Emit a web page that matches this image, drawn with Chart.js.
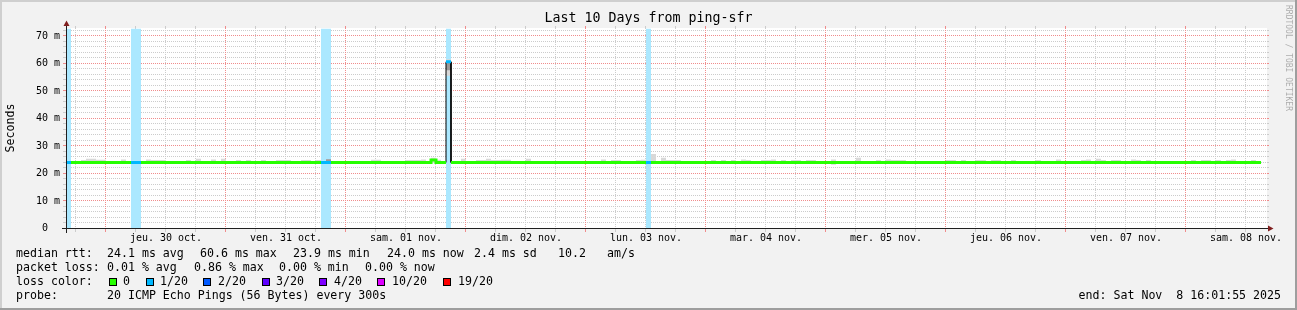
<!DOCTYPE html>
<html>
<head>
<meta charset="utf-8">
<script src="https://cdn.jsdelivr.net/npm/chart.js@4/dist/chart.umd.min.js"></script>
<style>
html,body{margin:0;padding:0;background:#f2f2f2;}
canvas{display:block;}
</style>
</head>
<body>
<canvas id="c" width="1297" height="310"></canvas>
<script>
// ---------------- data ----------------
const chartTitle = 'Last 10 Days from ping-sfr';
const yAxisTitle = 'Seconds';
const watermark = 'RRDTOOL / TOBI OETIKER';
// time axis in hours counted from Wed 29 Oct 2025 00:00
const xMinHour = 16;
const xMaxHour = 256;
const firstBinHour = 16;        // hourly bins, first one starts 29 Oct 16:00
const yMaxMs = 72.7;

const dayLabels = ['jeu. 30 oct.', 'ven. 31 oct.', 'sam. 01 nov.', 'dim. 02 nov.', 'lun. 03 nov.',
                   'mar. 04 nov.', 'mer. 05 nov.', 'jeu. 06 nov.', 'ven. 07 nov.', 'sam. 08 nov.'];
const dayLabelHours = [36, 60, 84, 108, 132, 156, 180, 204, 228, 252];
const xGridHours = [18,24,30,36,42,48,54,60,66,72,78,84,90,96,102,108,114,120,126,132,138,144,150,156,
                    162,168,174,180,186,192,198,204,210,216,222,228,234,240,246,252];
const xMajorHours = [24,48,72,96,120,144,168,192,216,240];
const yGridMs = [2,4,6,8,10,12,14,16,18,20,22,24,26,28,30,32,34,36,38,40,42,44,46,48,50,52,54,56,58,60,62,64,66,68,70,72];
const yLabelMs = [0,10,20,30,40,50,60,70];

// median RTT per hourly bin (ms)
const medianMs = [
 24.0,24.0,24.0,24.0,24.0,24.0,24.0,24.0,24.0,24.0,
 24.0,24.0,24.0,24.0,24.0,24.0,24.0,24.0,24.0,24.0,
 24.0,24.0,24.0,24.0,24.0,24.0,24.0,24.0,24.0,24.0,
 24.0,24.0,24.0,24.0,24.0,24.0,24.0,24.0,24.0,24.0,
 24.0,24.0,24.0,24.0,24.0,24.0,24.0,24.0,24.0,24.0,
 24.0,24.0,24.0,24.0,24.0,24.0,24.0,24.0,24.0,24.0,
 24.0,24.0,24.0,24.0,24.0,24.0,24.0,24.0,24.0,24.0,
 24.0,24.0,24.0,24.9,24.0,24.0,60.6,24.0,24.0,24.0,
 24.0,24.0,24.0,24.0,24.0,24.0,24.0,24.0,24.0,24.0,
 24.0,24.0,24.0,24.0,24.0,24.0,24.0,24.0,24.0,24.0,
 24.0,24.0,24.0,24.0,24.0,24.0,24.0,24.0,24.0,24.0,
 24.0,24.0,24.0,24.0,24.0,24.0,24.0,24.0,24.0,24.0,
 24.0,24.0,24.0,24.0,24.0,24.0,24.0,24.0,24.0,24.0,
 24.0,24.0,24.0,24.0,24.0,24.0,24.0,24.0,24.0,24.0,
 24.0,24.0,24.0,24.0,24.0,24.0,24.0,24.0,24.0,24.0,
 24.0,24.0,24.0,24.0,24.0,24.0,24.0,24.0,24.0,24.0,
 24.0,24.0,24.0,24.0,24.0,24.0,24.0,24.0,24.0,24.0,
 24.0,24.0,24.0,24.0,24.0,24.0,24.0,24.0,24.0,24.0,
 24.0,24.0,24.0,24.0,24.0,24.0,24.0,24.0,24.0,24.0,
 24.0,24.0,24.0,24.0,24.0,24.0,24.0,24.0,24.0,24.0,
 24.0,24.0,24.0,24.0,24.0,24.0,24.0,24.0,24.0,24.0,
 24.0,24.0,24.0,24.0,24.0,24.0,24.0,24.0,24.0,24.0,
 24.0,24.0,24.0,24.0,24.0,24.0,24.0,24.0,24.0,24.0,
 24.0,24.0,24.0,24.0,24.0,24.0,24.0,24.0,24.0
];
// smoke (ping spread) per bin: lowest and highest ping (ms)
const smokeLowMs = [
 23.7,23.7,23.7,23.7,23.7,23.7,23.7,23.7,23.7,23.7,
 23.7,23.7,23.7,23.7,23.7,23.7,23.7,23.7,23.7,23.7,
 23.7,23.7,23.7,23.7,23.7,23.7,23.7,23.7,23.7,23.7,
 23.7,23.7,23.7,23.7,23.7,23.7,23.7,23.7,23.7,23.7,
 23.7,23.7,23.7,23.7,23.7,23.7,23.7,23.7,23.7,23.7,
 23.7,23.7,23.7,23.7,23.7,23.7,23.7,23.7,23.7,23.7,
 23.7,23.7,23.7,23.7,23.7,23.7,23.7,23.7,23.7,23.7,
 23.7,23.7,23.7,23.7,23.7,23.7,55.5,23.7,23.7,23.7,
 23.7,23.7,23.7,23.7,23.7,23.7,23.7,23.7,23.7,23.7,
 23.7,23.7,23.7,23.7,23.7,23.7,23.7,23.7,23.7,23.7,
 23.7,23.7,23.7,23.7,23.7,23.7,23.7,23.7,23.7,23.7,
 23.7,23.7,23.7,23.7,23.7,23.7,23.7,23.7,23.7,23.7,
 23.7,23.7,23.7,23.7,23.7,23.7,23.7,23.7,23.7,23.7,
 23.7,23.7,23.7,23.7,23.7,23.7,23.7,23.7,23.7,23.7,
 23.7,23.7,23.7,23.7,23.7,23.7,23.7,23.7,23.7,23.7,
 23.7,23.7,23.7,23.2,23.7,23.7,23.7,23.7,23.7,23.7,
 23.7,23.7,23.7,23.7,23.7,23.7,23.7,23.7,23.7,23.7,
 23.7,23.7,23.7,23.7,23.7,23.7,23.7,23.7,23.7,23.7,
 23.7,23.7,23.7,23.7,23.7,23.7,23.7,23.7,23.7,23.7,
 23.7,23.7,23.7,23.7,23.7,23.7,23.7,23.7,23.7,23.7,
 23.7,23.7,23.7,23.7,23.7,23.7,23.7,23.7,23.7,23.7,
 23.7,23.7,23.7,23.7,23.7,23.7,23.7,23.7,23.7,23.7,
 23.7,23.7,23.7,23.7,23.7,23.7,23.7,23.7,23.7,23.7,
 23.7,23.7,23.7,23.7,23.7,23.7,23.7,23.7,23.7
];
const smokeHighMs = [
 24.5,24.5,24.5,24.9,25.35,25.35,25.0,25.0,24.5,24.5,
 24.5,25.1,24.5,24.5,24.5,24.5,25.1,24.9,24.9,24.9,
 24.5,24.5,24.5,24.5,24.9,24.5,25.35,24.5,24.5,25.1,
 24.5,25.35,24.5,24.5,24.9,24.5,24.9,24.5,24.5,24.9,
 24.5,24.5,24.9,24.9,24.9,24.5,24.5,24.9,24.9,24.5,
 24.9,24.5,25.2,24.5,24.5,24.5,24.5,24.5,24.5,24.5,
 24.5,25.0,25.0,24.5,24.5,24.5,24.5,24.5,24.9,24.9,
 24.9,25.1,24.5,25.7,25.0,24.5,61.5,24.5,24.5,25.35,
 24.5,24.5,24.9,24.9,25.35,24.9,24.9,25.0,25.0,24.5,
 24.5,24.5,25.35,24.5,24.5,24.5,24.5,24.5,24.5,24.5,
 24.5,24.5,24.5,24.5,24.5,24.5,24.5,25.1,24.5,24.9,
 24.9,24.5,24.5,24.5,24.9,25.0,24.5,27.1,24.5,25.7,
 24.9,24.9,24.9,24.5,24.5,24.5,24.5,24.5,24.5,24.9,
 24.5,24.9,24.5,24.9,24.5,25.1,24.9,24.5,24.5,24.9,
 24.9,25.1,24.5,24.9,24.5,24.9,24.9,24.5,24.9,24.9,
 24.5,24.5,24.5,25.1,24.5,24.5,24.5,24.5,25.7,24.5,
 24.5,24.5,24.9,24.5,25.1,24.9,24.9,24.9,24.5,24.5,
 24.5,24.5,24.5,24.5,24.5,24.5,24.9,24.9,24.5,24.9,
 24.5,24.5,24.9,24.9,24.5,24.9,24.9,24.5,24.5,24.9,
 24.5,24.5,24.5,24.5,24.9,24.5,24.5,24.5,25.1,24.5,
 24.5,24.5,24.5,24.9,25.1,24.5,25.35,24.9,24.5,24.9,
 24.9,24.5,24.5,25.1,24.9,24.5,24.9,24.5,24.5,24.5,
 24.5,24.5,24.5,24.5,24.5,24.9,24.5,24.9,24.9,24.5,
 24.9,24.5,24.9,25.1,24.5,24.5,24.5,24.9,24.5
];
// denser core of the smoke (only bins where it shows)
const smokeCoreBins = [52, 76];
const smokeCoreLowMs = [23.9, 57.5];
const smokeCoreHighMs = [25.15, 60.9];
// bins with packet loss (lost pings out of 20)
const lossBins = [0, 13, 14, 51, 52, 76, 116];
const lossBinOf20 = [1, 1, 1, 1, 1, 1, 1];

const lossThresholds = [0, 1, 2, 3, 4, 10, 19];
const lossLegendLabels = ['0', '1/20', '2/20', '3/20', '4/20', '10/20', '19/20'];
const lossColors = ['#26ff00', '#00b8ff', '#0059ff', '#5e00ff', '#7e00ff', '#dd00ff', '#ff0000'];

const medianStats = ['24.1 ms avg', '60.6 ms max', '23.9 ms min', '24.0 ms now', '2.4 ms sd', '10.2', 'am/s'];
const lossStats = ['0.01 % avg', '0.86 % max', '0.00 % min', '0.00 % now'];
const probeText = '20 ICMP Echo Pings (56 Bytes) every 300s';
const endText = 'end: Sat Nov  8 16:01:55 2025';

// ---------------- helpers ----------------
const MONO = '"DejaVu Sans Mono", "Liberation Mono", monospace';
const GRID = '#cccccc';
const MGRID = '#f08c8c';
const AXIS = '#1f1f1f';
const ARROW = '#801f1f';

function lossOfBin(i) { const k = lossBins.indexOf(i); return k < 0 ? 0 : lossBinOf20[k]; }
function lossClass(i) { const l = lossOfBin(i); let c = 0; lossThresholds.forEach((t, j) => { if (l >= t) c = j; }); return c; }
function lighten(hex, f) {
  const n = parseInt(hex.slice(1), 16);
  const r = (n >> 16) & 255, g = (n >> 8) & 255, b = n & 255;
  const m = v => Math.round(v * f + 255 * (1 - f));
  return 'rgb(' + m(r) + ',' + m(g) + ',' + m(b) + ')';
}

const medianPoints = [];
medianMs.forEach((m, i) => {
  medianPoints.push({ x: firstBinHour + i, y: m }, { x: firstBinHour + i + 1, y: m });
});
const smokePoints = medianMs.map((_, i) => ({ x: firstBinHour + i + 0.5, y: [smokeLowMs[i], smokeHighMs[i]] }));
const smokeCorePoints = smokeCoreBins.map((b, k) => ({ x: firstBinHour + b + 0.5, y: [smokeCoreLowMs[k], smokeCoreHighMs[k]] }));
const lossBandPoints = lossBins.map(b => ({ x: firstBinHour + b + 0.5, y: [0, yMaxMs] }));

// ---------------- drawing plugin ----------------
const rrdPlugin = {
  id: 'rrd',
  beforeDraw(chart) {
    const c = chart.ctx, W = chart.width, H = chart.height, a = chart.chartArea;
    c.save();
    c.fillStyle = '#f2f2f2'; c.fillRect(0, 0, W, H);
    c.fillStyle = '#cfcfcf'; c.fillRect(0, 0, W, 2); c.fillRect(0, 0, 2, H);
    c.fillStyle = '#9e9e9e'; c.fillRect(0, H - 2, W, 2); c.fillRect(W - 2, 0, 2, H);
    c.fillStyle = '#ffffff';
    c.fillRect(Math.floor(a.left), Math.floor(a.top), Math.floor(a.right) - Math.floor(a.left) + 1, Math.floor(a.bottom) - Math.floor(a.top));
    c.restore();
  },
  beforeDatasetsDraw(chart) {
    const c = chart.ctx, xs = chart.scales.x, ys = chart.scales.y, a = chart.chartArea;
    const Li = Math.floor(a.left), Ri = Math.floor(a.right);
    const T = Math.floor(a.top), B = Math.floor(a.bottom);
    c.save();
    // minor grid first, major grid on top of it
    const drawH = (major) => yGridMs.forEach(v => {
      if (yLabelMs.includes(v) !== major) return;
      const y = Math.floor(ys.getPixelForValue(v));
      c.fillStyle = major ? MGRID : GRID;
      for (let x = Li + 1; x <= Ri; x += 2) c.fillRect(x, y, 1, 1);
      c.fillRect(Li - 3, y, 3, 1); c.fillRect(Ri + 1, y, 2, 1);
    });
    const drawV = (major) => xGridHours.forEach(h => {
      if (xMajorHours.includes(h) !== major) return;
      const x = Math.round(xs.getPixelForValue(h)) - 1;
      c.fillStyle = major ? MGRID : GRID;
      for (let y = T; y < B; y += 2) c.fillRect(x, y, 1, 1);
      c.fillRect(x, T - 2, 1, 2); c.fillRect(x, B + 1, 1, 3);
    });
    drawH(false); drawV(false); drawH(true); drawV(true);
    c.restore();
  },
  afterDatasetsDraw(chart) {
    const c = chart.ctx, a = chart.chartArea;
    const X0 = Math.floor(a.left), X1 = Math.floor(a.right), Y0 = Math.floor(a.bottom), Y1 = Math.floor(a.top);
    c.save();
    c.fillStyle = AXIS;
    c.fillRect(X0 - 4, Y0, X1 - X0 + 9, 1);
    c.fillRect(X0, Y1 - 4, 1, Y0 - Y1 + 9);
    c.fillStyle = ARROW;
    c.beginPath(); c.moveTo(X1 + 2, Y0 - 2.5); c.lineTo(X1 + 2, Y0 + 3.5); c.lineTo(X1 + 7.5, Y0 + 0.5); c.closePath(); c.fill();
    c.beginPath(); c.moveTo(X0 - 2.5, Y1 - 2); c.lineTo(X0 + 3.5, Y1 - 2); c.lineTo(X0 + 0.5, Y1 - 7.5); c.closePath(); c.fill();
    c.restore();
  },
  afterDraw(chart) {
    const c = chart.ctx;
    c.save();
    c.fillStyle = '#000';
    c.textBaseline = 'middle';
    // title
    c.font = '13.3px ' + MONO; c.textAlign = 'center';
    c.fillText(chartTitle, 648.5, 19);
    // y axis title
    c.font = '11.6px ' + MONO;
    c.save(); c.translate(11, 128); c.rotate(-Math.PI / 2); c.fillText(yAxisTitle, 0, 0); c.restore();
    // watermark
    c.save(); c.font = '8px ' + MONO; c.fillStyle = 'rgba(0,0,0,0.3)'; c.textAlign = 'left';
    c.translate(1288, 5); c.rotate(Math.PI / 2); c.fillText(watermark, 0, 0); c.restore();
    // legend
    c.textAlign = 'left';
    c.font = '11.6px ' + MONO;
    c.fillText('median rtt:', 16, 254);
    [107, 200, 293, 387, 474, 558, 607].forEach((x, k) => c.fillText(medianStats[k], x, 254));
    c.fillText('packet loss:', 16, 268);
    [107, 194, 279, 365].forEach((x, k) => c.fillText(lossStats[k], x, 268));
    c.fillText('loss color:', 16, 282);
    const boxX = [109, 146, 203, 262, 319, 377, 443];
    const labX = [123, 160, 218, 276, 334, 392, 458];
    lossLegendLabels.forEach((lab, k) => {
      c.fillStyle = '#000'; c.fillRect(boxX[k], 278, 8, 8);
      c.fillStyle = lossColors[k]; c.fillRect(boxX[k] + 1, 279, 6, 6);
      c.fillStyle = '#000'; c.fillText(lab, labX[k], 282);
    });
    c.fillText('probe:', 16, 296);
    c.fillText(probeText, 107, 296);
    c.textAlign = 'right';
    c.fillText(endText, 1281, 296);
    c.restore();
  }
};

// ---------------- chart ----------------
const tickFont = { family: MONO, size: 10 };
new Chart(document.getElementById('c'), {
  type: 'line',
  data: {
    datasets: [
      {
        label: 'median', type: 'line', data: medianPoints, order: 0,
        borderWidth: 3, pointRadius: 0, tension: 0, fill: false,
        borderColor: lossColors[0], borderCapStyle: 'butt', borderJoinStyle: 'miter',
        segment: {
          borderColor: ctx => {
            const a = ctx.p0DataIndex, bin = Math.floor(a / 2);
            if (a % 2 === 0) return lossColors[lossClass(bin)];
            return lossClass(bin) === lossClass(bin + 1) ? lossColors[lossClass(bin)] : 'rgba(0,0,0,0)';
          }
        }
      },
      {
        label: 'median outline', type: 'line', data: medianPoints, order: 1,
        borderWidth: 1, pointRadius: 0, tension: 0, fill: false, borderColor: '#000'
      },
      {
        label: 'smoke core', type: 'bar', data: smokeCorePoints, order: 2, grouped: false,
        backgroundColor: '#9a9a9a', borderWidth: 0, barPercentage: 1, categoryPercentage: 1, inflateAmount: 0
      },
      {
        label: 'smoke', type: 'bar', data: smokePoints, order: 3, grouped: false,
        backgroundColor: '#d8d8d8', borderWidth: 0, barPercentage: 1, categoryPercentage: 1, inflateAmount: 0
      },
      {
        label: 'loss', type: 'bar', data: lossBandPoints, order: 4, grouped: false,
        backgroundColor: ctx => lighten(lossColors[lossClass(lossBins[ctx.dataIndex])], 0.33),
        borderWidth: 0, barPercentage: 1, categoryPercentage: 1, inflateAmount: 0
      }
    ]
  },
  options: {
    responsive: false,
    animation: false,
    devicePixelRatio: 1,
    events: [],
    layout: { padding: { left: 0, top: 28.5, right: 31, bottom: 51.5 } },
    plugins: { legend: { display: false }, tooltip: { enabled: false }, title: { display: false } },
    scales: {
      x: {
        type: 'linear', min: xMinHour, max: xMaxHour, offset: false,
        grid: { display: false, drawTicks: false }, border: { display: false },
        afterBuildTicks: s => { s.ticks = dayLabelHours.map(v => ({ value: v })); },
        afterFit: s => { s.height = 30; },
        ticks: { autoSkip: false, maxRotation: 0, minRotation: 0, padding: 3.5, font: tickFont, color: '#000',
                 callback: (v, i) => dayLabels[i] }
      },
      y: {
        type: 'linear', min: 0, max: yMaxMs,
        grid: { display: false, drawTicks: false }, border: { display: false },
        afterBuildTicks: s => { s.ticks = yLabelMs.map(v => ({ value: v })); },
        afterFit: s => { s.width = 66; },
        ticks: { padding: 6, font: tickFont, color: '#000',
                 callback: v => (v === 0 ? '0  ' : v + ' m') }
      }
    }
  },
  plugins: [rrdPlugin]
});
</script>
</body>
</html>
